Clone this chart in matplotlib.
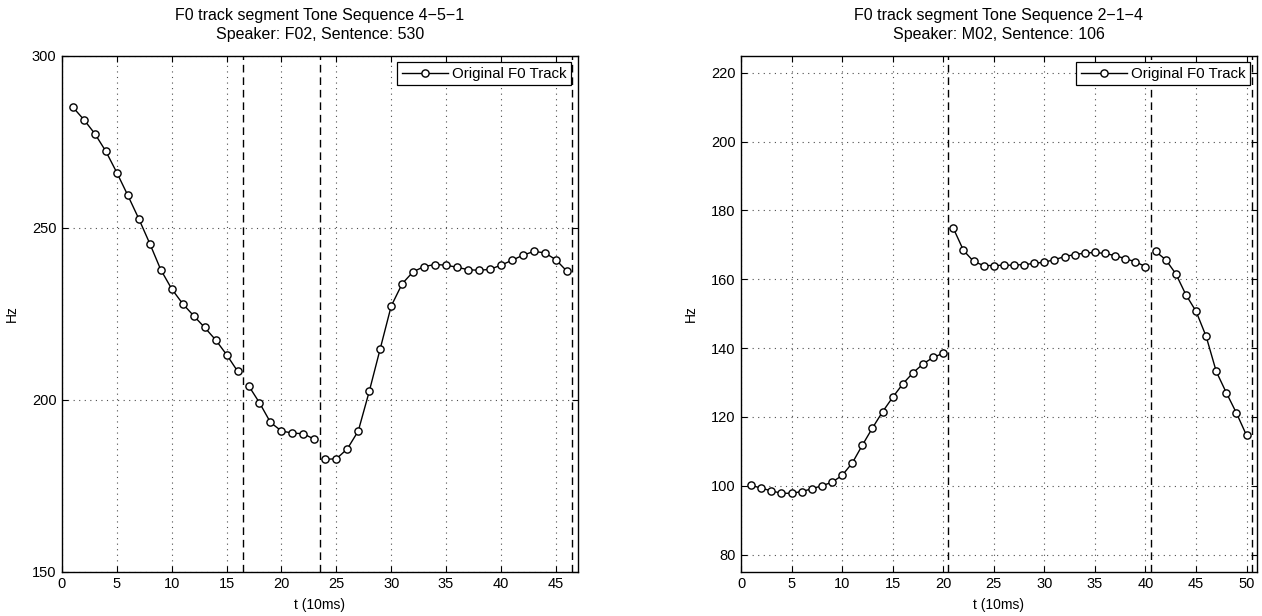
import numpy as np
import matplotlib
matplotlib.use("Agg")
import matplotlib.pyplot as plt

plt.rcParams['font.family'] = ['Liberation Sans', 'DejaVu Sans']

# speaker F02, sentence 530, tones 4-5-1
t_left = np.arange(1, 47)
f0_left = [285.0, 281.4, 277.3, 272.2, 266.0, 259.4, 252.6, 245.4, 237.8, 232.2,
           227.9, 224.4, 221.0, 217.4, 213.1, 208.3,
           204.1, 199.1, 193.4, 190.9, 190.3, 190.1, 188.5,
           182.7, 182.8, 185.7, 190.9, 202.4, 214.8, 227.2, 233.7, 237.2, 238.7,
           239.3, 239.1, 238.5, 237.8, 237.6, 237.9, 239.1, 240.5, 242.0, 243.1,
           242.7, 240.7, 237.4]
bounds_left = [16.5, 23.5, 46.5]

# speaker M02, sentence 106, tones 2-1-4
t_right = np.arange(1, 51)
f0_right = [100.1, 99.3, 98.5, 97.8, 97.8, 98.3, 99.1, 100.0, 101.0, 103.0,
            106.6, 111.8, 116.8, 121.5, 125.7, 129.6, 132.8, 135.4, 137.3, 138.5,
            174.8, 168.4, 165.2, 164.0, 164.0, 164.1, 164.1, 164.3, 164.6, 165.0,
            165.7, 166.6, 167.2, 167.6, 167.8, 167.5, 166.9, 166.0, 165.1, 163.7,
            168.1, 165.7, 161.6, 155.5, 150.7, 143.4, 133.2, 127.0, 121.1, 114.6]
bounds_right = [20.5, 40.5, 50.5]


def f0_plot(ax, t, f0, bounds, title, xlim, ylim, yticks):
    t = np.asarray(t)
    f0 = np.asarray(f0, dtype=float)
    ax.grid(True, linestyle=(0, (1, 4)), color='0.3', linewidth=0.8)
    start = 0.0
    first = True
    for b in bounds:
        m = (t > start) & (t < b)
        ax.plot(t[m], f0[m], '-o', color='k', lw=1.0, ms=5.2, mfc='white',
                mew=1.0, label='Original F0 Track' if first else None, zorder=3)
        first = False
        start = b
    for b in bounds:
        ax.axvline(b, color='k', ls=(0, (5.5, 3.5)), lw=1.0, zorder=2)
    ax.set_xlim(*xlim)
    ax.set_ylim(*ylim)
    ax.set_xticks(np.arange(0, xlim[1] + 0.1, 5))
    ax.set_yticks(yticks)
    ax.tick_params(direction='in', top=True, right=True, labelsize=10.5,
                   length=4, width=0.8, pad=4)
    for s in ax.spines.values():
        s.set_linewidth(1.0)
    ax.set_title(title, fontsize=11.5, pad=12, linespacing=1.35)
    ax.set_xlabel('t (10ms)', fontsize=10, labelpad=5)
    ax.set_ylabel('Hz', fontsize=10, labelpad=9)
    leg = ax.legend(loc='upper right', fontsize=10.8, fancybox=False,
                    edgecolor='k', framealpha=1, borderaxespad=0.45,
                    handlelength=3.1, borderpad=0.3, handletextpad=0.25)
    leg.get_frame().set_linewidth(0.9)


fig = plt.figure(figsize=(12.62, 6.16), dpi=100)
ax1 = fig.add_axes([0.0491, 0.0719, 0.4087, 0.8377])
ax2 = fig.add_axes([0.5872, 0.0719, 0.4086, 0.8377])

f0_plot(ax1, t_left, f0_left, bounds_left,
        'F0 track segment Tone Sequence 4\u22125\u22121\nSpeaker: F02, Sentence: 530',
        (0, 47), (150, 300), [150, 200, 250, 300])
f0_plot(ax2, t_right, f0_right, bounds_right,
        'F0 track segment Tone Sequence 2\u22121\u22124\nSpeaker: M02, Sentence: 106',
        (0, 51), (75, 225), np.arange(80, 221, 20))

fig.savefig('out.png', dpi=100)
